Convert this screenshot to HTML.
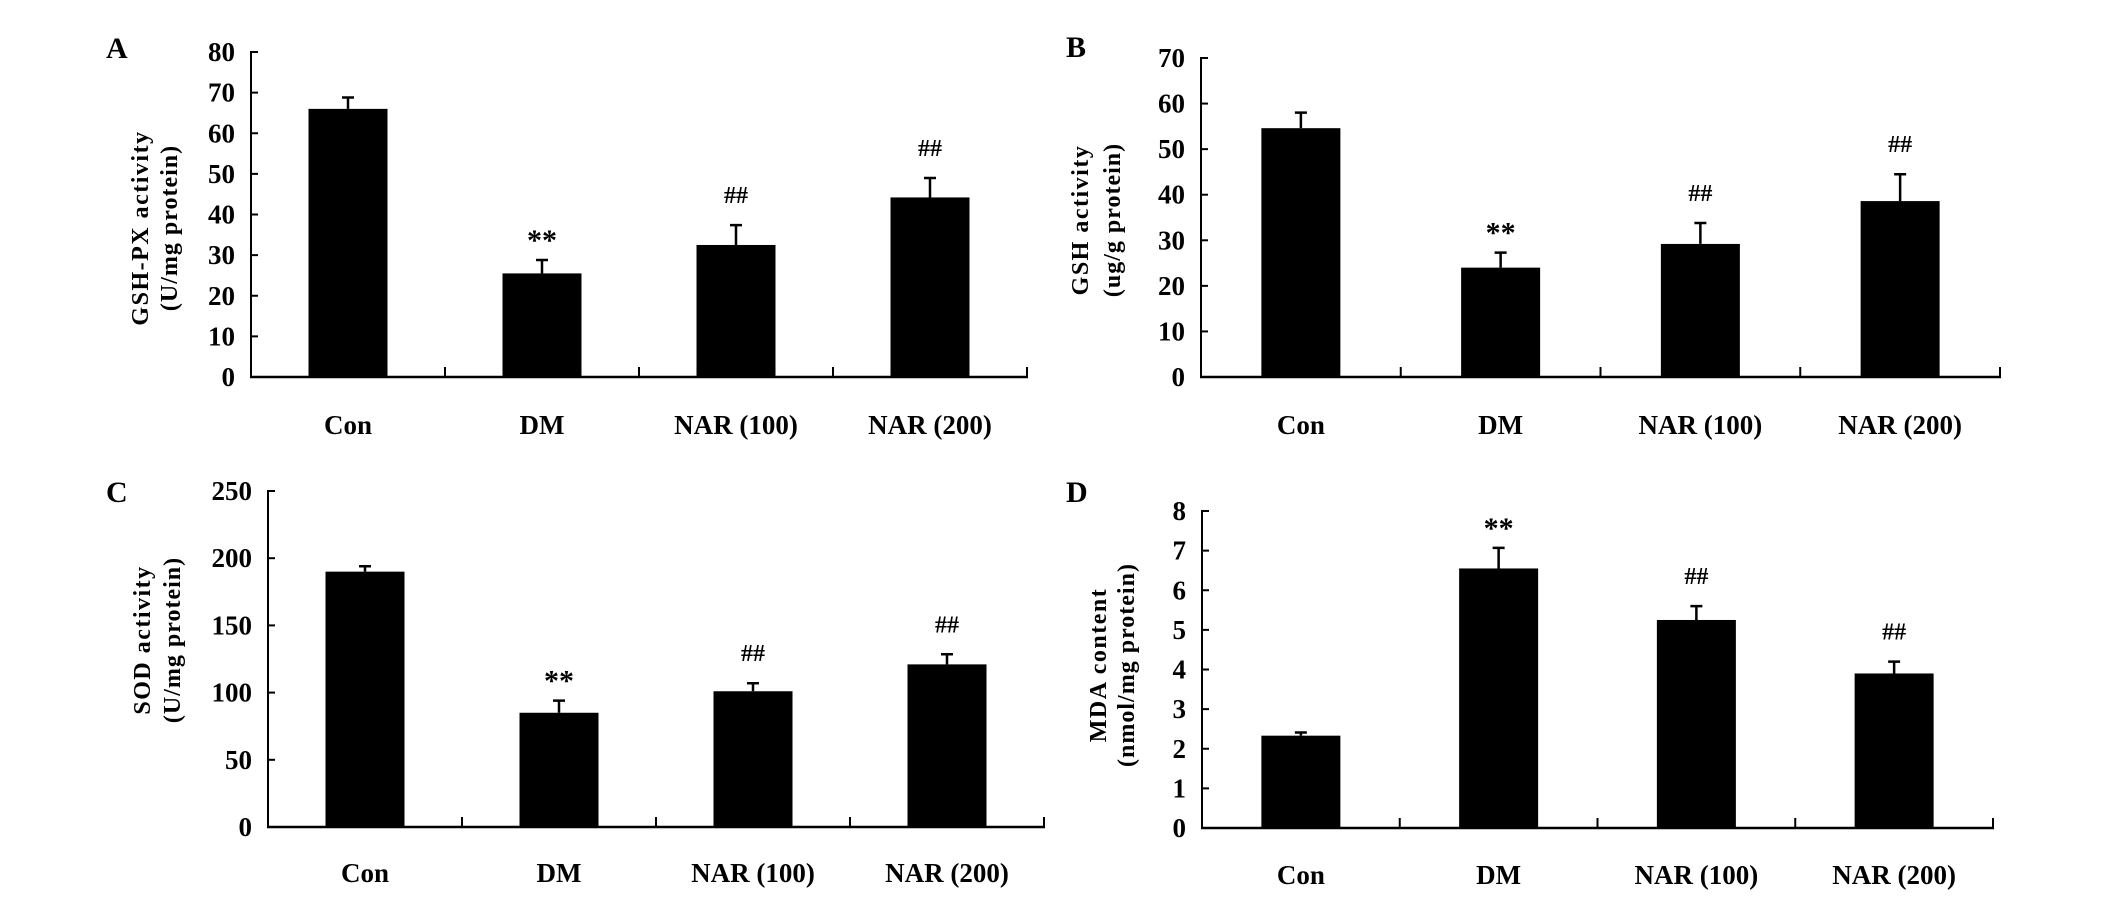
<!DOCTYPE html>
<html><head><meta charset="utf-8"><style>
html,body{margin:0;padding:0;background:#fff;}
svg{display:block;font-family:"Liberation Serif",serif;font-weight:bold;}
</style></head><body>
<svg id="fig" width="2126" height="901" viewBox="0 0 2126 901" xmlns="http://www.w3.org/2000/svg"></svg>
<script>
const categories = ["Con", "DM", "NAR (100)", "NAR (200)"];
const gshpxValues = [66, 25.5, 32.5, 44.2];
const gshpxErrors = [2.8, 3.3, 4.9, 4.8];
const gshpxMarks = ["", "**", "##", "##"];
const gshpxTicks = [0,10,20,30,40,50,60,70,80];
const gshValues = [54.6, 24, 29.2, 38.6];
const gshErrors = [3.4, 3.3, 4.6, 5.9];
const gshMarks = ["", "**", "##", "##"];
const gshTicks = [0,10,20,30,40,50,60,70];
const sodValues = [190, 85, 101, 121];
const sodErrors = [4, 9, 6, 7.5];
const sodMarks = ["", "**", "##", "##"];
const sodTicks = [0,50,100,150,200,250];
const mdaValues = [2.33, 6.55, 5.25, 3.9];
const mdaErrors = [0.08, 0.52, 0.35, 0.3];
const mdaMarks = ["", "**", "##", "##"];
const mdaTicks = [0,1,2,3,4,5,6,7,8];

const NS = "http://www.w3.org/2000/svg";
const svg = document.getElementById("fig");
function mk(tag, attrs, parent, text){
  const e = document.createElementNS(NS, tag);
  for (const k in attrs) e.setAttribute(k, attrs[k]);
  if (text !== undefined) e.textContent = text;
  parent.appendChild(e);
  return e;
}

function panel(cfg){
  const g = mk("g", {}, svg);
  
  
  const maxV = cfg.ticks[cfg.ticks.length-1];
  const y = v => cfg.y0 - (v/maxV)*(cfg.y0-cfg.yTop);
  const step = (cfg.x1-cfg.x0)/categories.length;
  const xc = i => cfg.x0 + step*(i+0.5);
  const bw = 79;
  // letter
  const L = mk("text", {x: cfg.lx, y: cfg.ly, "font-size": 30}, g, cfg.letter);
  
  
  // axes
  const ya = mk("line", {x1: cfg.x0, y1: cfg.yTop-1, x2: cfg.x0, y2: cfg.y0, stroke:"#000","stroke-width":2}, g);
  
  
  const xa = mk("line", {x1: cfg.x0-1, y1: cfg.y0, x2: cfg.x1+1, y2: cfg.y0, stroke:"#000","stroke-width":2.5}, g);
  
  
  cfg.ticks.forEach(t => {
    const ty = y(t);
    const tl = mk("line", {x1: cfg.x0, y1: ty, x2: cfg.x0+7, y2: ty, stroke:"#000","stroke-width":2}, g);
    
    
    const tt = mk("text", {x: cfg.x0-16, y: ty+9, "font-size": 27, "text-anchor":"end"}, g, String(t));
    
    
  });
  for (let i=1;i<=categories.length;i++){
    const tx = cfg.x0 + step*i;
    const tk = mk("line", {x1: tx, y1: cfg.y0, x2: tx, y2: cfg.y0-10, stroke:"#000","stroke-width":2}, g);
    
    
  }
  // title
  const t1 = mk("text", {transform:`translate(${cfg.tx1},${cfg.tcy}) rotate(-90)`, "font-size": 24, "text-anchor":"middle", "letter-spacing":1.5}, g, cfg.title1);
  
  
  const t2 = mk("text", {transform:`translate(${cfg.tx2},${cfg.tcy}) rotate(-90)`, "font-size": 24, "text-anchor":"middle", "letter-spacing":1}, g, cfg.title2);
  
  
  categories.forEach((c,i) => {
    const v = cfg.values[i], e = cfg.errors[i];
    const cx = xc(i);
    const b = mk("rect", {x: cx-bw/2, y: y(v), width: bw, height: cfg.y0-y(v), fill:"#000"}, g);
    
    
    const ey = y(v+e);
    const el = mk("path", {d:`M${cx} ${y(v)} V${ey} M${cx-6} ${ey} H${cx+6}`, stroke:"#000","stroke-width":2.5, fill:"none"}, g);
    
    
    if (cfg.marks[i]){
      const isStar = cfg.marks[i] === "**";
      const m = mk("text", {x: cx, y: ey - (isStar? 10 : 22), "font-size": isStar? 30 : 24, "text-anchor":"middle"}, g, cfg.marks[i]);
      
      
    }
    const lb = mk("text", {x: cx, y: cfg.labY, "font-size": 27, "text-anchor":"middle"}, g, c);
    
    
  });
}

panel({name:"panel-a-gshpx", letter:"A", lx:106, ly:58, x0:251, x1:1027, y0:377, yTop:52,
  ticks:gshpxTicks, values:gshpxValues, errors:gshpxErrors, marks:gshpxMarks,
  title1:"GSH-PX activity", title2:"(U/mg protein)", tx1:148, tx2:177, tcy:228, labY:434});
panel({name:"panel-b-gsh", letter:"B", lx:1066, ly:57, x0:1201, x1:2000, y0:377, yTop:58,
  ticks:gshTicks, values:gshValues, errors:gshErrors, marks:gshMarks,
  title1:"GSH activity", title2:"(ug/g protein)", tx1:1088, tx2:1120, tcy:220, labY:434});
panel({name:"panel-c-sod", letter:"C", lx:106, ly:502, x0:268, x1:1044, y0:827, yTop:491,
  ticks:sodTicks, values:sodValues, errors:sodErrors, marks:sodMarks,
  title1:"SOD activity", title2:"(U/mg protein)", tx1:150, tx2:180, tcy:640, labY:882});
panel({name:"panel-d-mda", letter:"D", lx:1066, ly:502, x0:1202, x1:1993, y0:828, yTop:511,
  ticks:mdaTicks, values:mdaValues, errors:mdaErrors, marks:mdaMarks,
  title1:"MDA content", title2:"(nmol/mg protein)", tx1:1106, tx2:1134, tcy:665, labY:884});
</script>
</body></html>
